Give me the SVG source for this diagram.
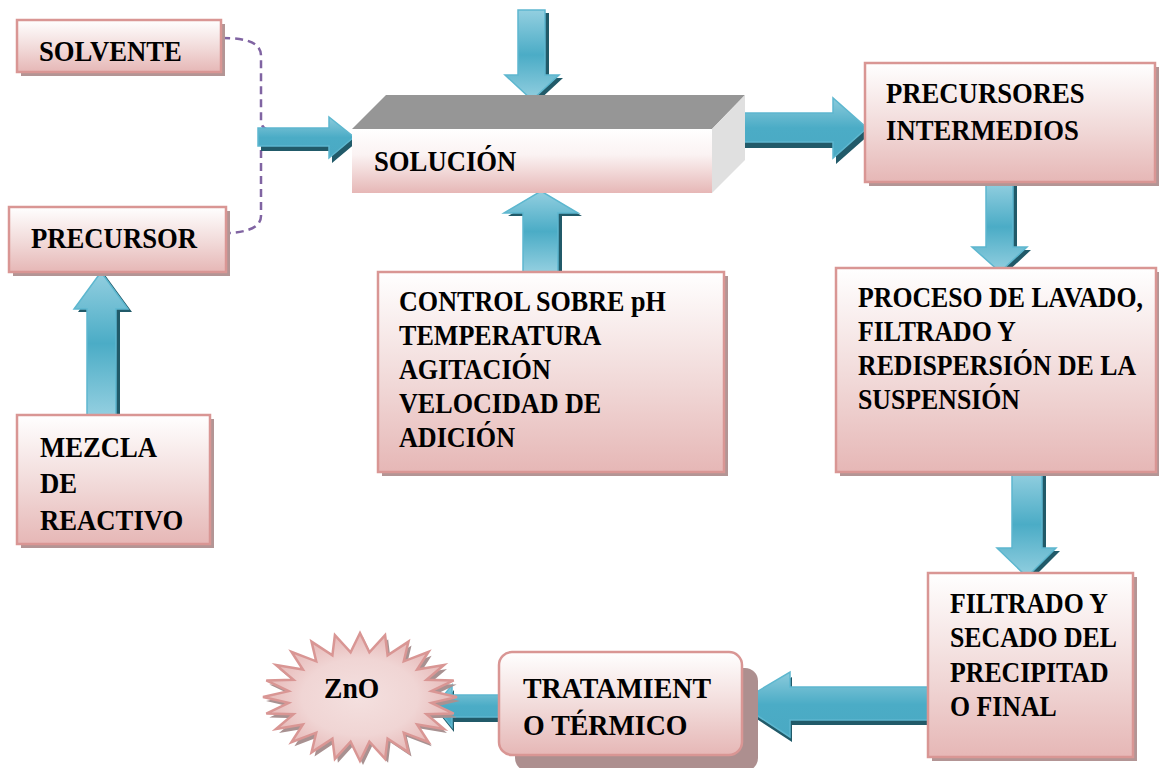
<svg xmlns="http://www.w3.org/2000/svg" width="1159" height="768" viewBox="0 0 1159 768">
<defs>
<linearGradient id="boxg" x1="0" y1="0" x2="0" y2="1">
<stop offset="0" stop-color="#ffffff"/>
<stop offset="0.55" stop-color="#f1d9d8"/>
<stop offset="1" stop-color="#e6b7b6"/>
</linearGradient>
<linearGradient id="arrH" x1="0" y1="0" x2="0" y2="1">
<stop offset="0" stop-color="#8ccbdc"/>
<stop offset="0.5" stop-color="#4bacc6"/>
<stop offset="1" stop-color="#4aa9c3"/>
</linearGradient>
<linearGradient id="arrV" x1="0" y1="0" x2="0" y2="1">
<stop offset="0" stop-color="#93cfe0"/>
<stop offset="0.5" stop-color="#4bacc6"/>
<stop offset="1" stop-color="#93cfe0"/>
</linearGradient>
<radialGradient id="starg" cx="0.5" cy="0.5" r="0.5">
<stop offset="0" stop-color="#f4e0df"/>
<stop offset="0.6" stop-color="#f0d5d4"/>
<stop offset="1" stop-color="#e6b7b6"/>
</radialGradient>
<linearGradient id="frontg" x1="0" y1="0" x2="0" y2="1">
<stop offset="0" stop-color="#ffffff"/>
<stop offset="0.4" stop-color="#fbf3f3"/>
<stop offset="1" stop-color="#e6b7b6"/>
</linearGradient>
</defs>
<style>
.box{fill:url(#boxg);stroke:#d99694;stroke-width:2.5}
.sh{fill:#b39595}
.t{font-family:"Liberation Serif","Times New Roman",serif;font-weight:bold;font-size:30px;fill:#000}
.aH{fill:url(#arrH);stroke:#5db7cf;stroke-width:1.5}
.aV{fill:url(#arrV);stroke:#5db7cf;stroke-width:1.5}
.ash{fill:#215a69}
.dash{fill:none;stroke:#8064a2;stroke-width:2.5;stroke-dasharray:8,5}
</style>

<g id="connectors">
<path class="dash" d="M222,38 C250,38 261,44 261,56 L261,120 Q261,128 268,130 M268,140 Q261,142 261,150 L261,216 C261,226 250,232 229,233"/>
<g id="arr-solv-sol">
<path class="ash" transform="translate(3,5)" d="M258,128 L329,128 L329,117 L354,137 L329,158 L329,146 L258,146 Z"/>
<path class="aH" d="M258,128 L329,128 L329,117 L354,137 L329,158 L329,146 L258,146 Z"/>
</g>
<g id="arr-top">
<path class="ash" transform="translate(4,3)" d="M518,10 L545,10 L545,75 L559,75 L532,100 L505,75 L518,75 Z"/>
<path class="aV" d="M518,10 L545,10 L545,75 L559,75 L532,100 L505,75 L518,75 Z"/>
</g>
<g id="arr-control">
<path class="ash" transform="translate(4,3)" d="M523,272 L558,272 L558,213 L578,213 L541,191 L504,213 L523,213 Z"/>
<path class="aV" d="M523,272 L558,272 L558,213 L578,213 L541,191 L504,213 L523,213 Z"/>
</g>
<g id="arr-sol-prec">
<path class="ash" transform="translate(3,6)" d="M739,113 L833,113 L833,98 L867,128 L833,158 L833,142 L739,142 Z"/>
<path class="aH" d="M739,113 L833,113 L833,98 L867,128 L833,158 L833,142 L739,142 Z"/>
</g>
<g id="arr-prec-proc">
<path class="ash" transform="translate(4,3)" d="M986,182 L1013,182 L1013,247 L1027,247 L1000,272 L972,247 L986,247 Z"/>
<path class="aV" d="M986,182 L1013,182 L1013,247 L1027,247 L1000,272 L972,247 L986,247 Z"/>
</g>
<g id="arr-proc-filt">
<path class="ash" transform="translate(4,3)" d="M1012,472 L1042,472 L1042,548 L1056,548 L1027,577 L997,548 L1012,548 Z"/>
<path class="aV" d="M1012,472 L1042,472 L1042,548 L1056,548 L1027,577 L997,548 L1012,548 Z"/>
</g>
<g id="arr-filt-trat">
<path class="ash" transform="translate(2,5)" d="M928,687 L790,687 L790,672 L738,703 L790,737 L790,720 L928,720 Z"/>
<path class="aH" d="M928,687 L790,687 L790,672 L738,703 L790,737 L790,720 L928,720 Z"/>
</g>
<g id="arr-trat-zno">
<path class="ash" transform="translate(2,5)" d="M500,695 L452,695 L452,685 L435,706 L452,727 L452,717 L500,717 Z"/>
<path class="aH" d="M500,695 L452,695 L452,685 L435,706 L452,727 L452,717 L500,717 Z"/>
</g>
<g id="arr-mez-prec">
<path class="ash" transform="translate(4,3)" d="M87,415 L116,415 L116,309 L128,309 L101,272 L74,309 L87,309 Z"/>
<path class="aV" d="M87,415 L116,415 L116,309 L128,309 L101,272 L74,309 L87,309 Z"/>
</g>
</g>

<g id="n-solvente">
<rect class="sh" x="21" y="24" width="204" height="52"/>
<rect class="box" x="17" y="20" width="204" height="52"/>
<text class="t" transform="translate(39 61) scale(0.89 1)">SOLVENTE</text>
</g>

<g id="n-precursor">
<rect class="sh" x="13" y="211" width="217" height="65"/>
<rect class="box" x="9" y="207" width="217" height="65"/>
<text class="t" transform="translate(31 248) scale(0.89 1)">PRECURSOR</text>
</g>

<g id="n-mezcla">
<rect class="sh" x="21" y="419" width="193" height="129"/>
<rect class="box" x="17" y="415" width="193" height="129"/>
<text class="t" transform="translate(40 457) scale(0.89 1)"><tspan x="0" y="0">MEZCLA</tspan><tspan x="0" y="36">DE</tspan><tspan x="0" y="73">REACTIVO</tspan></text>
</g>

<g id="n-solucion">
<polygon points="352,129 386,95 745,95 712,129" fill="#969696"/>
<polygon points="712,129 745,95 745,160 712,193" fill="#e0e0e0"/>
<rect x="352" y="129" width="360" height="64" fill="url(#frontg)"/>
<text class="t" transform="translate(374 171) scale(0.89 1)">SOLUCIÓN</text>
</g>

<g id="n-control">
<rect class="sh" x="382" y="276" width="346" height="200"/>
<rect class="box" x="378" y="272" width="346" height="200"/>
<text class="t" transform="translate(399 311) scale(0.87 1)"><tspan x="0" y="0">CONTROL SOBRE pH</tspan><tspan x="0" y="34">TEMPERATURA</tspan><tspan x="0" y="68">AGITACIÓN</tspan><tspan x="0" y="102">VELOCIDAD DE</tspan><tspan x="0" y="136">ADICIÓN</tspan></text>
</g>

<g id="n-precursores">
<rect class="sh" x="869" y="67" width="292" height="119"/>
<rect class="box" x="865" y="63" width="290" height="119"/>
<text class="t" transform="translate(886 103) scale(0.89 1)"><tspan x="0" y="0">PRECURSORES</tspan><tspan x="0" y="37">INTERMEDIOS</tspan></text>
</g>

<g id="n-proceso">
<rect class="sh" x="840" y="272" width="322" height="204"/>
<rect class="box" x="836" y="268" width="320" height="204"/>
<text class="t" transform="translate(858 307) scale(0.86 1)"><tspan x="0" y="0">PROCESO DE LAVADO,</tspan><tspan x="0" y="34">FILTRADO Y</tspan><tspan x="0" y="68">REDISPERSIÓN DE LA</tspan><tspan x="0" y="102">SUSPENSIÓN</tspan></text>
</g>

<g id="n-filtrado">
<rect class="sh" x="932" y="577" width="205" height="184"/>
<rect class="box" x="928" y="573" width="205" height="184"/>
<text class="t" transform="translate(950 613) scale(0.86 1)"><tspan x="0" y="0">FILTRADO Y</tspan><tspan x="0" y="34">SECADO DEL</tspan><tspan x="0" y="69">PRECIPITAD</tspan><tspan x="0" y="103">O FINAL</tspan></text>
</g>

<g id="n-tratamiento">
<rect x="515" y="668" width="243" height="103" rx="13" fill="#ad8f8f"/>
<rect class="box" x="499" y="652" width="243" height="103" rx="13"/>
<text class="t" transform="translate(523 698) scale(0.93 1)"><tspan x="0" y="0">TRATAMIENT</tspan><tspan x="0" y="37">O TÉRMICO</tspan></text>
</g>

<g id="n-zno">
<polygon transform="translate(3,4)" fill="#a89191" points="457,697 431.4,702.9 453.7,713.6 426.5,714.2 444,729 417.1,724.4 428.6,742.2 403.8,732.7 408.5,752.4 387.6,738.6 385.1,758.8 369.4,741.6 360,761 350.6,741.6 334.9,758.8 332.4,738.6 311.5,752.4 316.2,732.7 291.4,742.2 302.9,724.4 276,729 293.5,714.2 266.3,713.6 288.6,702.9 263,697 288.6,691.1 266.3,680.4 293.5,679.8 276,665 302.9,669.6 291.4,651.8 316.2,661.3 311.5,641.6 332.4,655.4 334.9,635.2 350.6,652.4 360,633 369.4,652.4 385.1,635.2 387.6,655.4 408.5,641.6 403.8,661.3 428.6,651.8 417.1,669.6 444,665 426.5,679.8 453.7,680.4 431.4,691.1"/>
<polygon fill="url(#starg)" stroke="#d99694" stroke-width="2.5" points="457,697 431.4,702.9 453.7,713.6 426.5,714.2 444,729 417.1,724.4 428.6,742.2 403.8,732.7 408.5,752.4 387.6,738.6 385.1,758.8 369.4,741.6 360,761 350.6,741.6 334.9,758.8 332.4,738.6 311.5,752.4 316.2,732.7 291.4,742.2 302.9,724.4 276,729 293.5,714.2 266.3,713.6 288.6,702.9 263,697 288.6,691.1 266.3,680.4 293.5,679.8 276,665 302.9,669.6 291.4,651.8 316.2,661.3 311.5,641.6 332.4,655.4 334.9,635.2 350.6,652.4 360,633 369.4,652.4 385.1,635.2 387.6,655.4 408.5,641.6 403.8,661.3 428.6,651.8 417.1,669.6 444,665 426.5,679.8 453.7,680.4 431.4,691.1"/>
<text class="t" transform="translate(324 698) scale(0.92 1)">ZnO</text>
</g>
</svg>
